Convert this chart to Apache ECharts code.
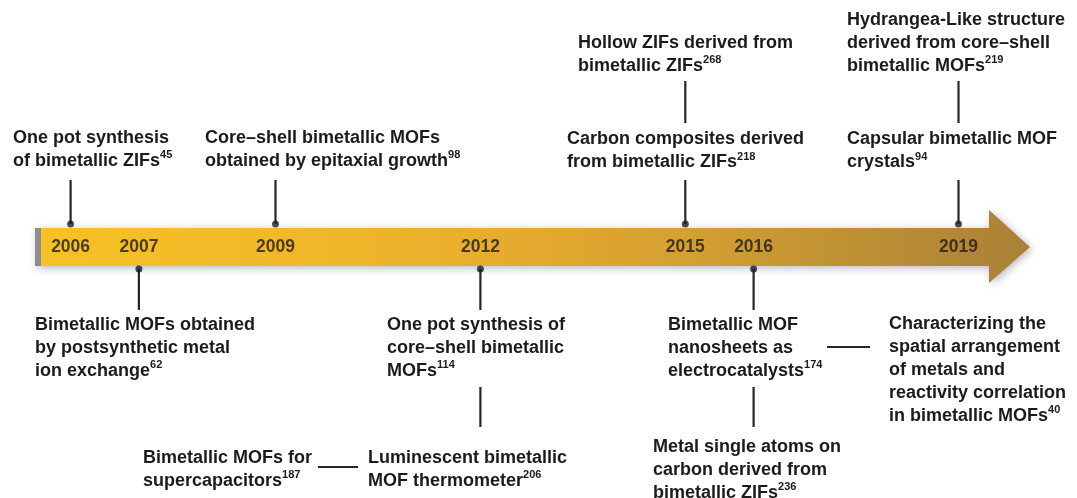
<!DOCTYPE html>
<html>
<head>
<meta charset="utf-8">
<script src="https://cdn.jsdelivr.net/npm/echarts@6/dist/echarts.min.js"></script>
<style>
html,body{margin:0;padding:0;background:#ffffff;}
#c{width:1077px;height:498px;}
</style>
</head>
<body>
<div id="c"></div>
<script>
// ---------------- DATA ----------------
const years = [2006, 2007, 2009, 2012, 2015, 2016, 2019];
const yearSides = ['above', 'below', 'above', 'below', 'above', 'below', 'above'];

const eventYears = [2006, 2009, 2015, 2015, 2019, 2019, 2007, 2012, 2012, 2012, 2016, 2016, 2016];
const eventTexts = [
  'One pot synthesis\nof bimetallic ZIFs',
  'Core\u2013shell bimetallic MOFs\nobtained by epitaxial growth',
  'Hollow ZIFs derived from\nbimetallic ZIFs',
  'Carbon composites derived\nfrom bimetallic ZIFs',
  'Hydrangea-Like structure\nderived from core\u2013shell\nbimetallic MOFs',
  'Capsular bimetallic MOF\ncrystals',
  'Bimetallic MOFs obtained\nby postsynthetic metal\nion exchange',
  'One pot synthesis of\ncore\u2013shell bimetallic\nMOFs',
  'Luminescent bimetallic\nMOF thermometer',
  'Bimetallic MOFs for\nsupercapacitors',
  'Bimetallic MOF\nnanosheets as\nelectrocatalysts',
  'Metal single atoms on\ncarbon derived from\nbimetallic ZIFs',
  'Characterizing the\nspatial arrangement\nof metals and\nreactivity correlation\nin bimetallic MOFs'
];
const eventRefs = [45, 98, 268, 218, 219, 94, 62, 114, 206, 187, 174, 236, 40];

// ---------------- LAYOUT (pixels) ----------------
const BAR_MID = 247, DOT_ABOVE = 224, DOT_BELOW = 269;
const LINE_H = 23;
// dx: text left edge relative to the year position; cy: centre of first line
// v: vertical connector [y1,y2] at the year position; h: horizontal connector [dx1,dx2,y]
const eventLayout = [
  {dx: -57.6,  cy: 138,   v: [180, 224]},
  {dx: -70.5,  cy: 138,   v: [180, 224]},
  {dx: -107.3, cy: 43,    v: [81, 123]},
  {dx: -118.3, cy: 139.5, v: [180, 224]},
  {dx: -111.5, cy: 20,    v: [81, 123]},
  {dx: -111.5, cy: 139.5, v: [180, 224]},
  {dx: -103.9, cy: 325,   v: [269, 310]},
  {dx: -93.4,  cy: 325,   v: [269, 310]},
  {dx: -112.4, cy: 458,   v: [387, 427]},
  {dx: -337.4, cy: 458,   h: [-162.4, -122.4, 467]},
  {dx: -85.6,  cy: 325,   v: [269, 310]},
  {dx: -100.6, cy: 447,   v: [387, 427]},
  {dx: 135.4,  cy: 324,   h: [73.4, 116.4, 347]}
];

const FONT = '"Liberation Sans", Arial, Helvetica, sans-serif';
const TEXT_COLOR = '#1b1b1b';

const chart = echarts.init(document.getElementById('c'), null, {renderer: 'canvas'});

const option = {
  animation: false,
  backgroundColor: '#ffffff',
  grid: {left: 70.6, right: 118.5, top: 0, bottom: 0, containLabel: false},
  xAxis: {type: 'value', min: 2006, max: 2019, show: false},
  yAxis: {type: 'value', min: 0, max: 498, inverse: true, show: false},
  graphic: [
    {
      type: 'polygon',
      z: 0,
      silent: true,
      shape: {points: [[35, 228], [989, 228], [989, 210], [1030, 247], [989, 283], [989, 266], [35, 266]]},
      style: {
        fill: {
          type: 'linear', x: 0, y: 0, x2: 1, y2: 0,
          colorStops: [
            {offset: 0, color: '#F8C126'},
            {offset: 0.3, color: '#F0B62A'},
            {offset: 0.45, color: '#E8AD2D'},
            {offset: 0.65, color: '#D6A031'},
            {offset: 0.82, color: '#BF9134'},
            {offset: 1, color: '#A98038'}
          ]
        },
        shadowBlur: 8,
        shadowColor: 'rgba(0,0,0,0.28)',
        shadowOffsetX: 2,
        shadowOffsetY: 2
      }
    },
    {
      type: 'rect',
      z: 1,
      silent: true,
      shape: {x: 35, y: 228, width: 6, height: 38},
      style: {fill: '#8e8e8e'}
    }
  ],
  series: [
    {
      type: 'custom',
      name: 'connectors',
      z: 3,
      silent: true,
      data: eventYears.map((y, i) => [y, i]),
      renderItem: function (params, api) {
        const i = api.value(1);
        const L = eventLayout[i];
        const x = api.coord([api.value(0), 0])[0];
        let shape;
        if (L.v) {
          shape = {x1: x, y1: api.coord([api.value(0), L.v[0]])[1], x2: x, y2: api.coord([api.value(0), L.v[1]])[1]};
        } else {
          const yy = api.coord([api.value(0), L.h[2]])[1];
          shape = {x1: x + L.h[0], y1: yy, x2: x + L.h[1], y2: yy};
        }
        return {type: 'line', shape: shape, style: {stroke: '#262626', lineWidth: 2.2}};
      }
    },
    {
      type: 'scatter',
      name: 'milestones',
      z: 4,
      silent: true,
      symbol: 'circle',
      symbolSize: 7,
      itemStyle: {color: '#1a1a33'},
      data: years.map((y, i) => [y, yearSides[i] === 'above' ? DOT_ABOVE : DOT_BELOW])
    },
    {
      type: 'scatter',
      name: 'years',
      z: 5,
      silent: true,
      symbolSize: 1,
      itemStyle: {color: 'rgba(0,0,0,0)'},
      data: years.map(y => [y, BAR_MID]),
      label: {
        show: true,
        position: 'inside',
        formatter: p => String(p.value[0]),
        fontFamily: FONT,
        fontWeight: 'bold',
        fontSize: 17.5,
        color: '#231c14'
      }
    },
    {
      type: 'custom',
      name: 'events',
      z: 6,
      silent: true,
      data: eventYears.map((y, i) => [y, i]),
      renderItem: function (params, api) {
        const i = api.value(1);
        const L = eventLayout[i];
        const x = api.coord([api.value(0), 0])[0] + L.dx;
        const y = api.coord([api.value(0), L.cy])[1] - LINE_H / 2;
        return {
          type: 'text',
          x: x,
          y: y,
          style: {
            text: eventTexts[i] + '{sup|' + eventRefs[i] + '}',
            fill: TEXT_COLOR,
            fontFamily: FONT,
            fontWeight: 'bold',
            fontSize: 18,
            lineHeight: LINE_H,
            align: 'left',
            verticalAlign: 'top',
            rich: {
              sup: {
                fontFamily: FONT,
                fontWeight: 'bold',
                fontSize: 11,
                lineHeight: 19,
                verticalAlign: 'top',
                fill: TEXT_COLOR
              }
            }
          }
        };
      }
    }
  ]
};
chart.setOption(option);
</script>
</body>
</html>
